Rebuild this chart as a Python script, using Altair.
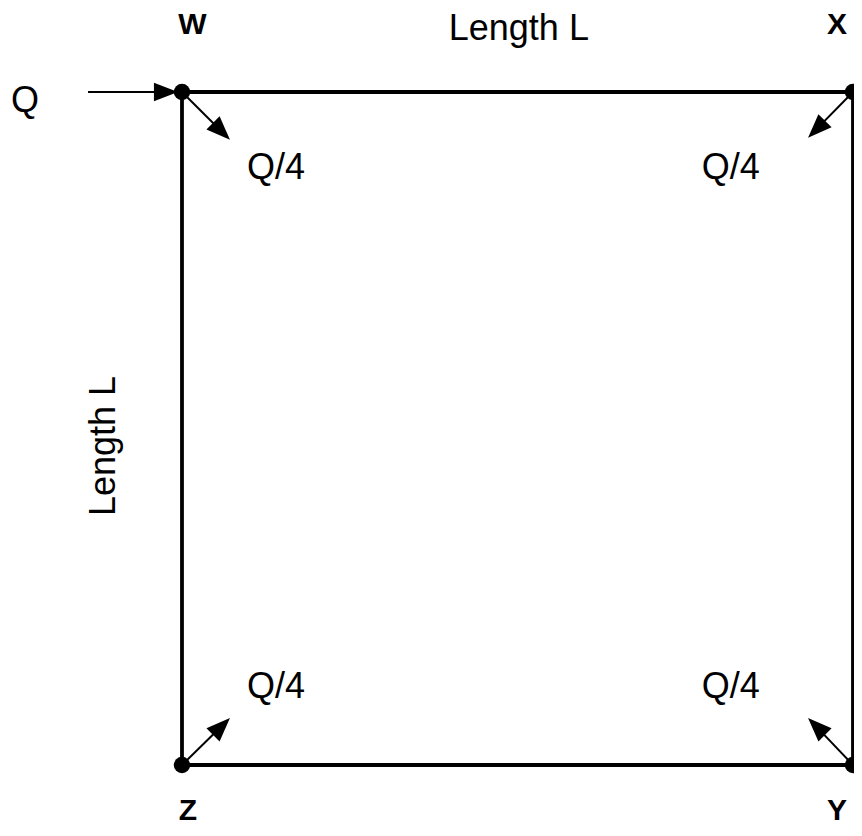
import altair as alt
import pandas as pd

# Diagram data (units: side of the square = Length L = 1)
corner_names = ["W", "X", "Y", "Z"]
corner_u = [0.0, 1.0, 1.0, 0.0]
corner_v = [1.0, 1.0, 0.0, 0.0]

# square edges (start corner index -> end corner index)
edge_from = [0, 1, 2, 3]
edge_to = [1, 2, 3, 0]

# arrows: start point, tip point, head angle
arrow_names = ["Q", "W", "X", "Z", "Y"]
arrow_u0 = [-0.140, 0.0, 1.0, 0.0, 1.0]
arrow_v0 = [1.0, 1.0, 1.0, 0.0, 0.0]
arrow_u1 = [-0.006, 0.0715, 0.933, 0.0715, 0.933]
arrow_v1 = [1.0, 0.929, 0.932, 0.070, 0.070]
arrow_angle = [90, 135, 225, 45, 315]

# corner labels (bold)
lab_text = ["W", "X", "Z", "Y"]
lab_u = [0.0156, 0.976, 0.009, 0.976]
lab_v = [1.086, 1.086, -0.082, -0.082]

# regular labels
txt_text = ["Length L", "Q", "Q/4", "Q/4", "Q/4", "Q/4"]
txt_u = [0.502, -0.234, 0.140, 0.818, 0.140, 0.818]
txt_v = [1.077, 0.970, 0.870, 0.870, 0.100, 0.100]

# rotated side label
side_text = ["Length L"]
side_u = [-0.116]
side_v = [0.474]

# scale domain (units)
U_MIN, U_MAX = -0.2593, 1.0015
V_MIN, V_MAX = -0.0936, 1.1248
W, H = 846, 820
px_u = W / (U_MAX - U_MIN)
px_v = H / (V_MAX - V_MIN)

xs = alt.Scale(domain=[U_MIN, U_MAX])
ys = alt.Scale(domain=[V_MIN, V_MAX])

edges = pd.DataFrame({
    "u": [corner_u[i] for i in edge_from],
    "v": [corner_v[i] for i in edge_from],
    "u2": [corner_u[i] for i in edge_to],
    "v2": [corner_v[i] for i in edge_to],
})

# shafts end slightly before the tip so they sit under the head
shaft_u2, shaft_v2 = [], []
for a, b, c, d in zip(arrow_u0, arrow_v0, arrow_u1, arrow_v1):
    dxp = (c - a) * px_u
    dyp = (d - b) * px_v
    L = (dxp ** 2 + dyp ** 2) ** 0.5
    k = max(0.0, (L - 9) / L)
    shaft_u2.append(a + (c - a) * k)
    shaft_v2.append(b + (d - b) * k)

arrows = pd.DataFrame({
    "name": arrow_names,
    "u": arrow_u0, "v": arrow_v0,
    "u2": shaft_u2, "v2": shaft_v2,
    "tu": arrow_u1, "tv": arrow_v1,
    "angle": arrow_angle,
})

corners = pd.DataFrame({"name": corner_names, "u": corner_u, "v": corner_v})
labs = pd.DataFrame({"t": lab_text, "u": lab_u, "v": lab_v})
txts = pd.DataFrame({"t": txt_text, "u": txt_u, "v": txt_v})
side = pd.DataFrame({"t": side_text, "u": side_u, "v": side_v})

X = lambda f="u": alt.X(f"{f}:Q", scale=xs, axis=None)
Y = lambda f="v": alt.Y(f"{f}:Q", scale=ys, axis=None)

box = alt.Chart(edges).mark_rule(color="black", strokeWidth=3.8, strokeCap="square").encode(
    x=X(), y=Y(), x2="u2:Q", y2="v2:Q")

shafts = alt.Chart(arrows).mark_rule(color="black", strokeWidth=2).encode(
    x=X(), y=Y(), x2="u2:Q", y2="v2:Q")

heads = alt.Chart(arrows).mark_point(
    shape="M0,0L-0.62,1.6L0.62,1.6Z", filled=True, opacity=1, color="black",
    size=900, strokeWidth=0).encode(
    x=X("tu"), y=Y("tv"), angle=alt.Angle("angle:Q", scale=None))

dots = alt.Chart(corners).mark_point(
    shape="circle", filled=True, opacity=1, color="black", size=270).encode(
    x=X(), y=Y())

bold = alt.Chart(labs).mark_text(
    font="Liberation Sans", fontSize=30, fontWeight="bold", color="black",
    align="center", baseline="alphabetic").encode(x=X(), y=Y(), text="t:N")

reg = alt.Chart(txts).mark_text(
    font="Liberation Sans", fontSize=36, color="black",
    align="center", baseline="alphabetic").encode(x=X(), y=Y(), text="t:N")

rot = alt.Chart(side).mark_text(
    font="Liberation Sans", fontSize=36, color="black", angle=270,
    align="center", baseline="middle").encode(x=X(), y=Y(), text="t:N")

chart = alt.layer(box, shafts, heads, dots, bold, reg, rot).properties(
    width=W, height=H, padding=0, autosize=alt.AutoSizeParams(type="none"),
    background="white"
).configure_view(strokeWidth=0)

chart.save("out.html", embed_options={"renderer": "svg", "actions": False})
